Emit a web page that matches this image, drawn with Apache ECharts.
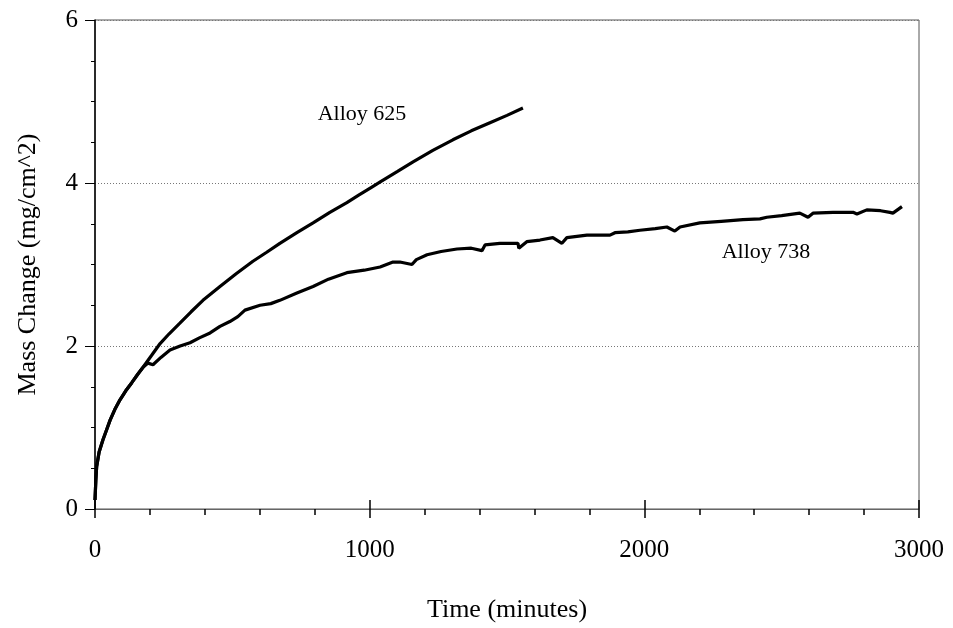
<!DOCTYPE html>
<html>
<head>
<meta charset="utf-8">
<script src="https://cdn.jsdelivr.net/npm/echarts@6/dist/echarts.min.js"></script>
<style>
  html, body { margin: 0; padding: 0; background: #fff; }
  #chart { width: 953px; height: 628px; }
</style>
</head>
<body>
<div id="chart"></div>
<script>
// Alloy 625, time (minutes) and mass change (mg/cm^2)
var time625 = [0, 3, 6, 15, 29, 42, 55, 72, 91, 112, 134, 155, 175, 205, 237, 270, 309, 350, 393, 455, 515, 575, 625, 673, 735, 794, 855, 917, 960, 1008, 1037, 1100, 1158, 1230, 1303, 1370, 1438, 1500, 1558];
var mass625 = [0.11, 0.35, 0.52, 0.70, 0.85, 0.97, 1.09, 1.22, 1.34, 1.45, 1.55, 1.65, 1.74, 1.88, 2.03, 2.15, 2.28, 2.42, 2.56, 2.73, 2.89, 3.04, 3.15, 3.26, 3.39, 3.51, 3.64, 3.76, 3.85, 3.95, 4.01, 4.14, 4.26, 4.40, 4.53, 4.64, 4.74, 4.83, 4.92];

// Alloy 738
var time738 = [0, 3, 6, 15, 29, 42, 55, 72, 91, 112, 134, 155, 175, 193, 211, 240, 273, 310, 346, 380, 419, 455, 491, 520, 546, 553, 601, 640, 673, 735, 794, 850, 917, 980, 1038, 1085, 1110, 1154, 1170, 1209, 1260, 1318, 1370, 1409, 1420, 1474, 1540, 1543, 1572, 1620, 1667, 1700, 1718, 1791, 1838, 1875, 1893, 1940, 1984, 2040, 2082, 2111, 2130, 2202, 2280, 2359, 2421, 2446, 2500, 2566, 2596, 2614, 2687, 2760, 2774, 2810, 2860, 2894, 2905, 2938];
var mass738 = [0.11, 0.35, 0.52, 0.70, 0.85, 0.97, 1.09, 1.22, 1.34, 1.45, 1.55, 1.65, 1.74, 1.79, 1.77, 1.86, 1.95, 2.00, 2.04, 2.10, 2.16, 2.24, 2.30, 2.36, 2.44, 2.42, 2.50, 2.52, 2.56, 2.65, 2.73, 2.82, 2.90, 2.93, 2.97, 3.03, 3.03, 3.00, 3.06, 3.12, 3.16, 3.19, 3.20, 3.17, 3.24, 3.26, 3.26, 3.20, 3.28, 3.30, 3.33, 3.26, 3.33, 3.36, 3.36, 3.36, 3.39, 3.40, 3.42, 3.44, 3.46, 3.41, 3.46, 3.51, 3.53, 3.55, 3.56, 3.58, 3.60, 3.63, 3.58, 3.63, 3.64, 3.64, 3.62, 3.67, 3.66, 3.64, 3.63, 3.71];

// axis ticks
var xTicks = [0, 1000, 2000, 3000];
var yTicks = [0, 2, 4, 6];

// series labels, placed in data coordinates
var labels = [
  { name: 'Alloy 625', at: [972, 4.85] },
  { name: 'Alloy 738', at: [2443, 3.15] }
];

var serif = "'Liberation Serif', 'Times New Roman', serif";

function pairs(xs, ys) {
  return xs.map(function (x, i) { return [x, ys[i]]; });
}

var chart = echarts.init(document.getElementById('chart'));

var option = {
  animation: false,
  backgroundColor: '#fff',
  grid: {
    left: 95, right: 34, top: 20, bottom: 119,
    show: true, borderColor: '#555', borderWidth: 1
  },
  xAxis: [{
    type: 'value',
    min: xTicks[0], max: xTicks[xTicks.length - 1], interval: 1000,
    name: 'Time (minutes)', nameLocation: 'middle', nameGap: 88,
    nameTextStyle: { fontFamily: serif, fontSize: 26, color: '#000' },
    axisLine: { show: true, lineStyle: { color: '#666', width: 1 } },
    axisTick: { show: true, length: 9, lineStyle: { color: '#000', width: 1.5 } },
    minorTick: { show: true, splitNumber: 5, length: 6, lineStyle: { color: '#000', width: 1.5 } },
    axisLabel: { fontFamily: serif, fontSize: 25, color: '#000', margin: 29, formatter: function (v) { return String(v); } },
    splitLine: { show: false }
  }, {
    type: 'value',
    position: 'bottom',
    min: xTicks[0], max: xTicks[xTicks.length - 1], interval: 1000,
    axisLine: { show: false },
    axisTick: { show: true, inside: true, length: 9, lineStyle: { color: '#000', width: 1.5 } },
    axisLabel: { show: false },
    splitLine: { show: false }
  }],
  yAxis: {
    type: 'value',
    min: yTicks[0], max: yTicks[yTicks.length - 1], interval: 2,
    name: 'Mass Change (mg/cm^2)', nameLocation: 'middle', nameGap: 54,
    nameTextStyle: { fontFamily: serif, fontSize: 26, color: '#000' },
    axisLine: { show: true, lineStyle: { color: '#000', width: 1.5 } },
    axisTick: { show: true, length: 10, lineStyle: { color: '#000', width: 1 } },
    minorTick: { show: true, splitNumber: 4, length: 4, lineStyle: { color: '#000', width: 1 } },
    axisLabel: { fontFamily: serif, fontSize: 25, color: '#000', margin: 17 },
    splitLine: { show: true, lineStyle: { color: '#777', width: 1, type: [1, 2] } }
  },
  series: [{
    name: 'Alloy 625',
    type: 'line',
    data: pairs(time625, mass625),
    showSymbol: false,
    lineStyle: { color: '#000', width: 3.2 },
    markPoint: {
      symbol: 'circle', symbolSize: 0,
      label: { show: true, formatter: '{b}', fontFamily: serif, fontSize: 22, color: '#000' },
      data: [{ name: labels[0].name, coord: labels[0].at }]
    }
  }, {
    name: 'Alloy 738',
    type: 'line',
    data: pairs(time738, mass738),
    showSymbol: false,
    lineStyle: { color: '#000', width: 3.2 },
    markPoint: {
      symbol: 'circle', symbolSize: 0,
      label: { show: true, formatter: '{b}', fontFamily: serif, fontSize: 22, color: '#000' },
      data: [{ name: labels[1].name, coord: labels[1].at }]
    }
  }]
};

chart.setOption(option);
</script>
</body>
</html>
